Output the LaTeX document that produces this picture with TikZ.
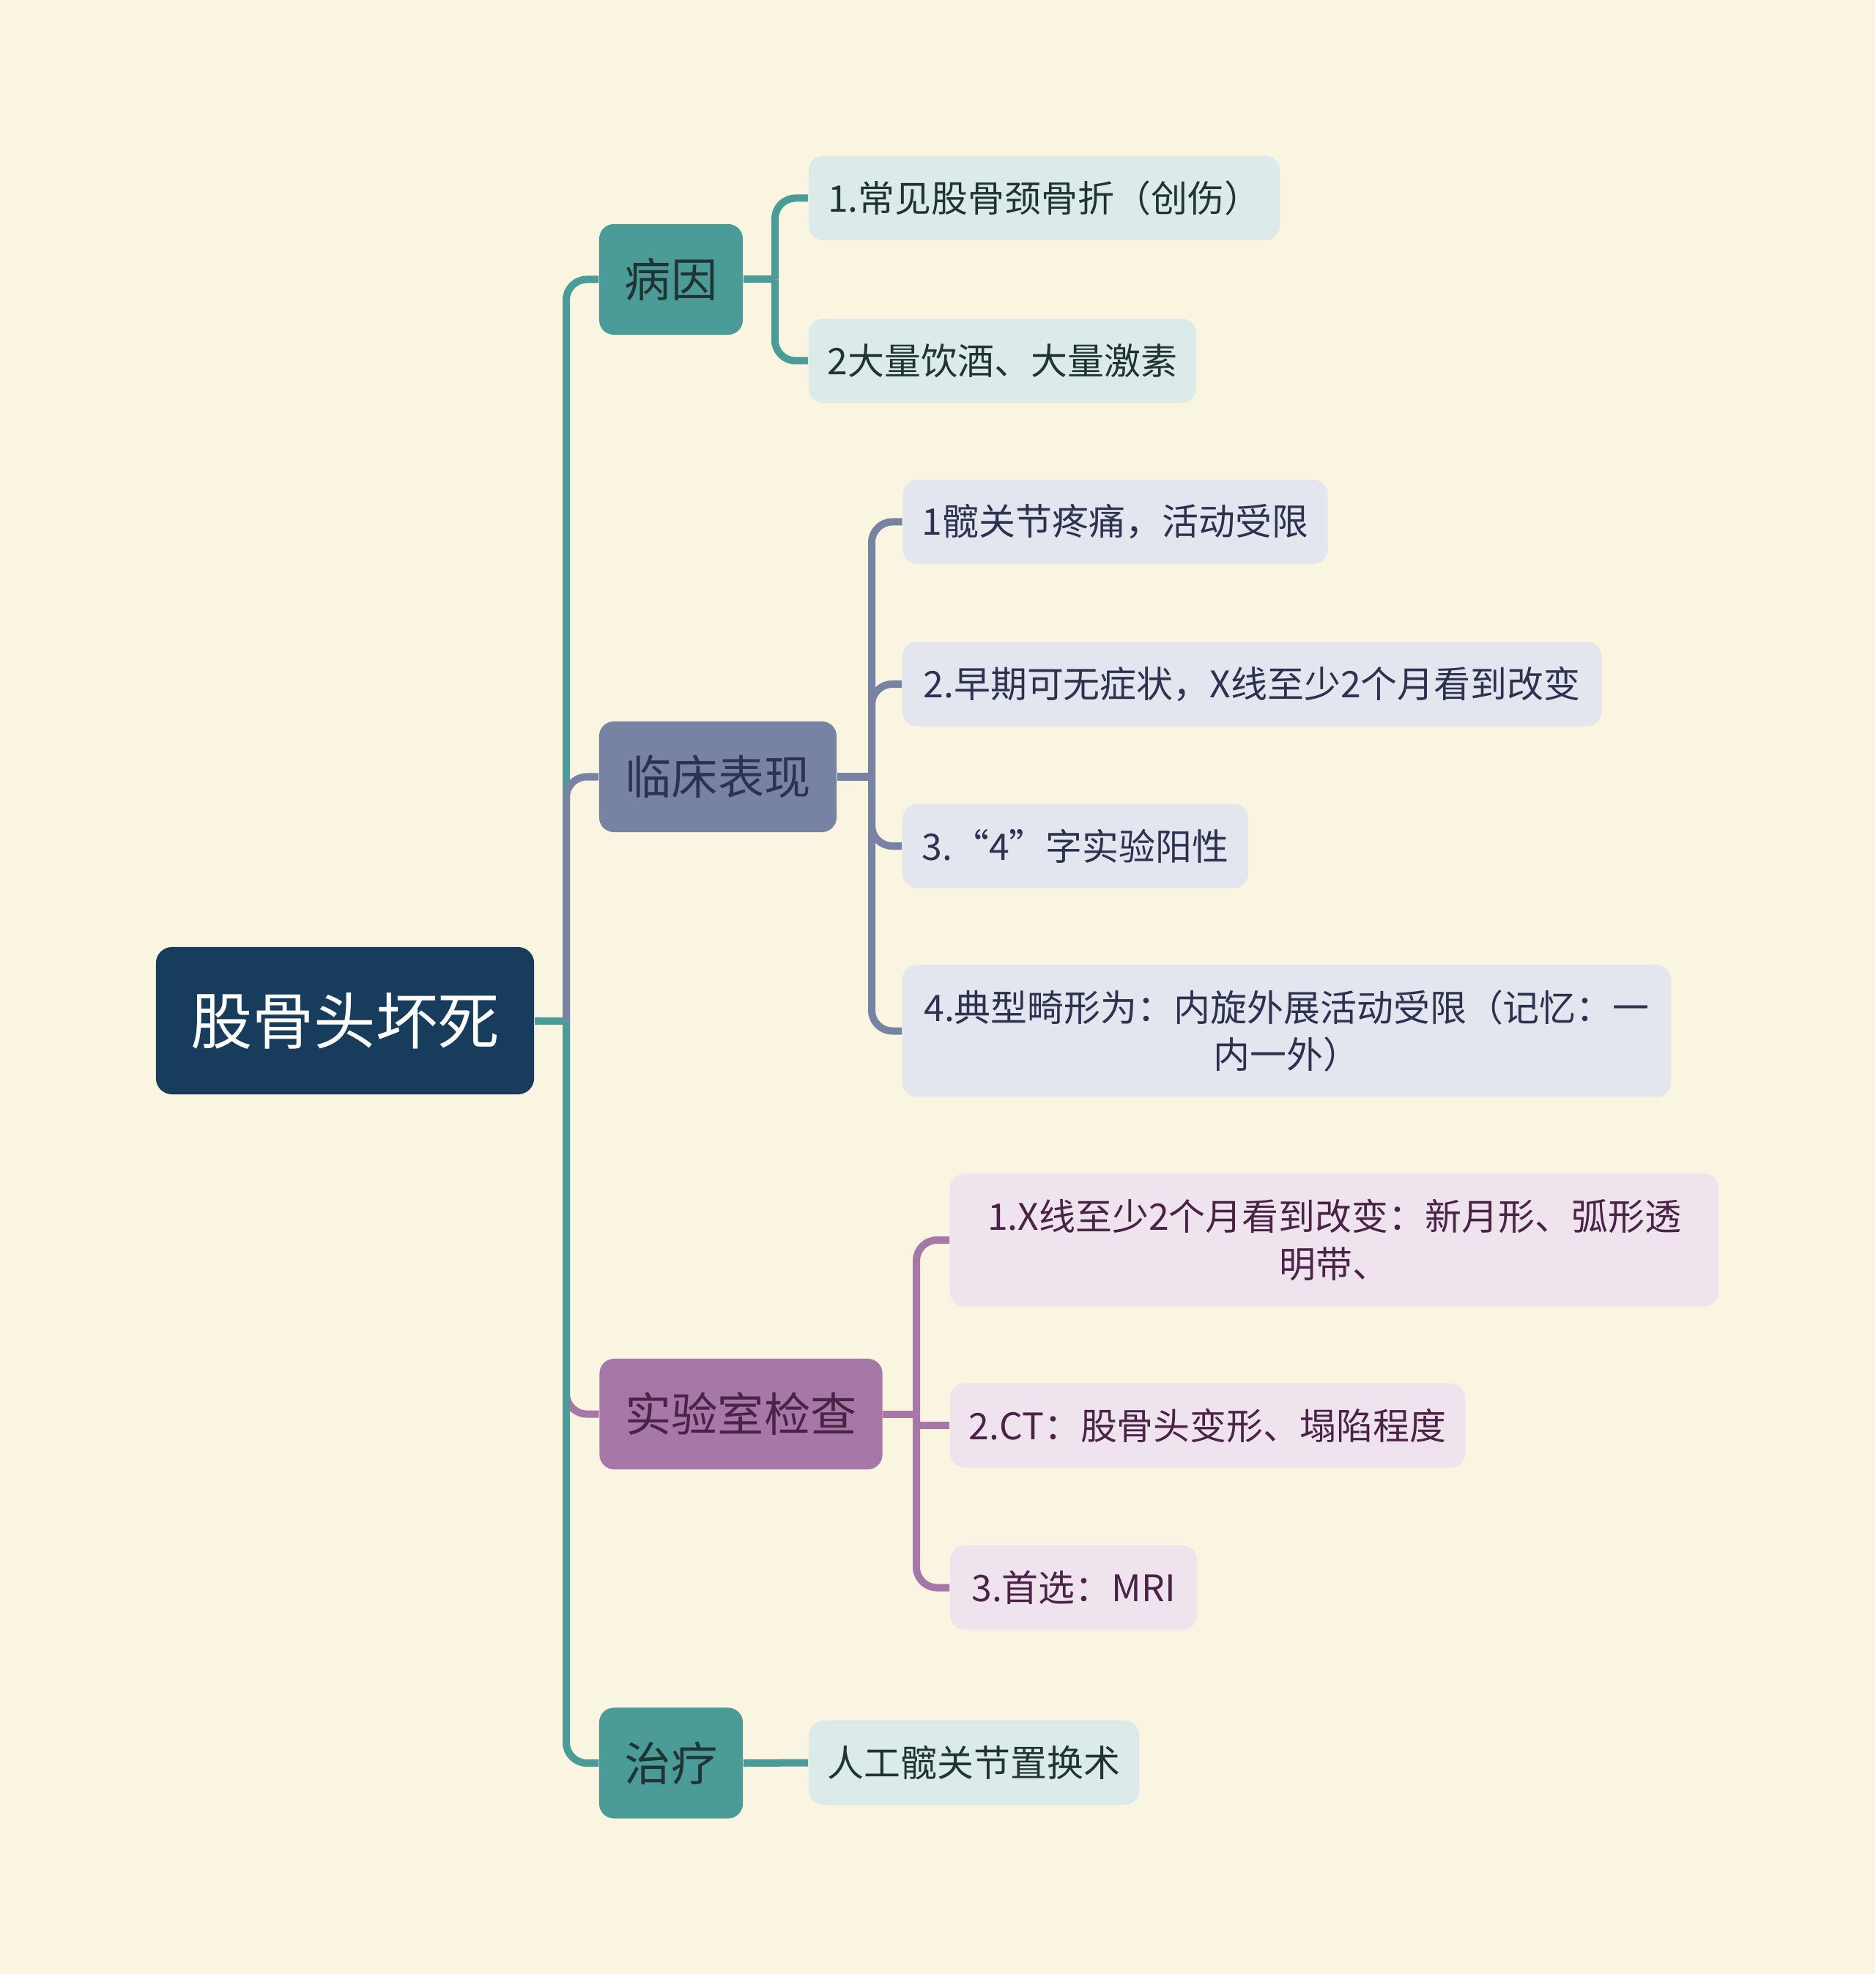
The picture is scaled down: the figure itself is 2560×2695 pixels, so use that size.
\documentclass[tikz,border=0pt]{standalone}
\usepackage{fontspec}
\setmainfont{Noto Sans CJK SC}
\usetikzlibrary{positioning, calc}
\definecolor{fondo}{HTML}{FAF5E1}
\definecolor{azulRaiz}{HTML}{183D5C}
\definecolor{verdeAzul}{HTML}{4B9B99}
\definecolor{pizarra}{HTML}{7882A3}
\definecolor{malva}{HTML}{A777A8}
\definecolor{verdeClaro}{HTML}{DCEBEA}
\definecolor{pizarraClara}{HTML}{E3E6EE}
\definecolor{malvaClara}{HTML}{EFE3EE}
\definecolor{tintaVerde}{HTML}{1F3433}
\definecolor{tintaPizarra}{HTML}{2C3350}
\definecolor{tintaMalva}{HTML}{4A2346}

\begin{document}
\begin{tikzpicture}[x=0.01cm, y=-0.01cm,
        raiz/.style={rectangle, rounded corners=0.22cm, fill=azulRaiz, text=white, minimum width=5.16cm, minimum height=2.01cm, inner sep=0pt, font=\fontsize{24}{28}\selectfont},
        tema/.style={rectangle, rounded corners=0.2cm, minimum height=1.51cm, inner sep=0pt, font=\fontsize{18}{22}\selectfont},
        hoja/.style={rectangle, rounded corners=0.2cm, minimum height=1.15cm, inner sep=0pt, align=center, font=\fontsize{14.2}{18.4}\selectfont},
        rama/.style={line width=0.1cm, rounded corners=0.28cm}]

        % Fondo
        \fill[fondo] (0,0) rectangle (2560,2695);

        % Raiz y temas
        \node[raiz] (raiz) at (471,1393.5) {股骨头坏死};
        \node[tema, fill=verdeAzul, text=tintaVerde, minimum width=1.96cm] (bingyin) at (916,381.5) {病因};
        \node[tema, fill=pizarra, text=tintaPizarra, minimum width=3.24cm] (linchuang) at (980,1060.5) {临床表现};
        \node[tema, fill=malva, text=tintaMalva, minimum width=3.86cm] (shiyan) at (1011.5,1930.5) {实验室检查};
        \node[tema, fill=verdeAzul, text=tintaVerde, minimum width=1.96cm] (zhiliao) at (916,2407) {治疗};

        % Hojas
        \node[hoja, fill=verdeClaro, text=tintaVerde, minimum width=6.43cm] (b1) at (1425.5,270.5) {1.常见股骨颈骨折（创伤）};
        \node[hoja, fill=verdeClaro, text=tintaVerde, minimum width=5.29cm] (b2) at (1368.5,492.5) {2大量饮酒、大量激素};

        \node[hoja, fill=pizarraClara, text=tintaPizarra, minimum width=5.80cm] (l1) at (1522.5,712.5) {1髋关节疼痛，活动受限};
        \node[hoja, fill=pizarraClara, text=tintaPizarra, minimum width=9.54cm] (l2) at (1709,934) {2.早期可无症状，X线至少2个月看到改变};
        \node[hoja, fill=pizarraClara, text=tintaPizarra, minimum width=4.72cm] (l3) at (1468,1155) {3.“4”字实验阳性};
        \node[hoja, fill=pizarraClara, text=tintaPizarra, minimum width=10.49cm, minimum height=1.80cm] (l4) at (1756.5,1407.5) {4.典型畸形为：内旋外展活动受限（记忆：一\\内一外）};

        \node[hoja, fill=malvaClara, text=tintaMalva, minimum width=10.49cm, minimum height=1.81cm] (s1) at (1821.5,1693) {1.X线至少2个月看到改变：新月形、弧形透\\明带、};
        \node[hoja, fill=malvaClara, text=tintaMalva, minimum width=7.03cm] (s2) at (1648.5,1946) {2.CT：股骨头变形、塌陷程度};
        \node[hoja, fill=malvaClara, text=tintaMalva, minimum width=3.37cm] (s3) at (1465.5,2167.5) {3.首选：MRI};

        \node[hoja, fill=verdeClaro, text=tintaVerde, minimum width=4.51cm] (z1) at (1329.5,2406.5) {人工髋关节置换术};

        % Tronco
        \coordinate (tronco) at (773,1393.5);
        \draw[rama, verdeAzul] (raiz.east) -- (tronco);
        \draw[rama, verdeAzul] (tronco) |- (bingyin.west);
        \draw[rama, pizarra] (tronco) |- (linchuang.west);
        \draw[rama, malva] (tronco) |- (shiyan.west);
        \draw[rama, verdeAzul] (tronco) |- (zhiliao.west);

        % Ramas
        \coordinate (bingyinR) at (1058,381.5);
        \draw[rama, verdeAzul] (bingyin.east) -- (bingyinR);
        \draw[rama, verdeAzul] (bingyinR) |- (b1.west);
        \draw[rama, verdeAzul] (bingyinR) |- (b2.west);

        \coordinate (linchuangR) at (1190,1060.5);
        \draw[rama, pizarra] (linchuang.east) -- (linchuangR);
        \foreach \h in {l1,l2,l3,l4}
            \draw[rama, pizarra] (linchuangR) |- (\h.west);

        \coordinate (shiyanR) at (1251,1930.5);
        \draw[rama, malva] (shiyan.east) -- (shiyanR);
        \draw[rama, malva] (shiyanR) |- (s1.west);
        \draw[rama, malva] (shiyanR |- s2.west) -- (s2.west);
        \draw[rama, malva] (shiyanR) |- (s3.west);

        \draw[rama, verdeAzul] (zhiliao.east) -- (z1.west);
    \end{tikzpicture}
\end{document}
